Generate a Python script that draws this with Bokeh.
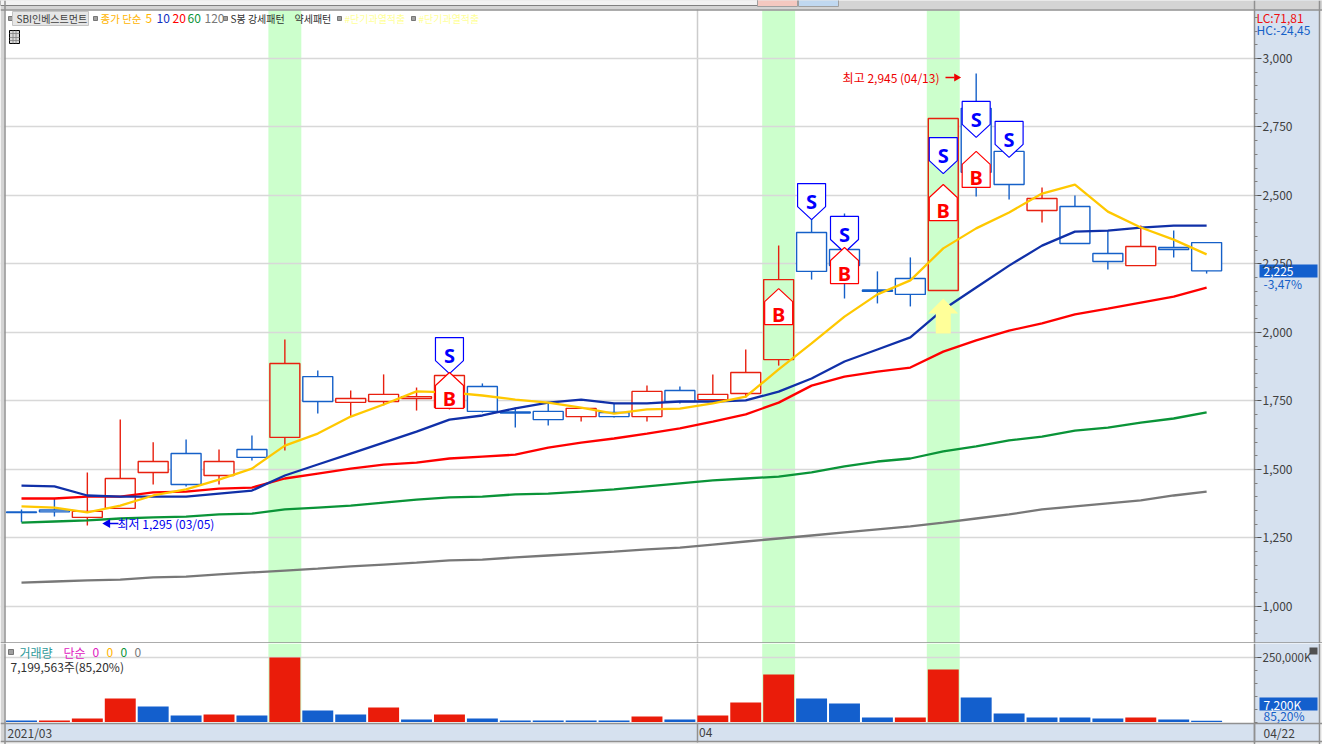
from bokeh.plotting import figure
from bokeh.layouts import column
from bokeh.models import Range1d, FixedTicker, Label, Span, ColumnDataSource, LinearAxis, Grid
from bokeh.core.properties import value
from bokeh.embed import file_html
from bokeh.resources import INLINE

# ---- data ----
opens  = [1345,1352,1325,1358,1489,1558,1478,1573,1617,1839,1745,1748,1759,1726,1803,1710,1712,1693,1708,1693,1788,1755,1777,1901,2365,2303,2155,2197,2153,2818,2661,2445,2460,2288,2244,2310,2328]
closes = [1343,1345,1347,1467,1529,1445,1529,1544,1887,1748,1759,1774,1766,1843,1712,1706,1682,1723,1693,1785,1748,1774,1854,2193,2223,2244,2150,2139,2781,2585,2540,2489,2325,2259,2314,2303,2225]
highs  = [1354,1394,1489,1682,1599,1609,1573,1624,1974,1861,1788,1847,1799,1850,1814,1726,1741,1726,1741,1806,1803,1847,1938,2317,2445,2434,2223,2274,2781,2945,2700,2529,2500,2372,2390,2372,2328]
lows   = [1307,1328,1295,1358,1445,1438,1445,1533,1569,1704,1693,1734,1715,1719,1708,1653,1660,1675,1690,1675,1741,1755,1763,1879,2193,2124,2106,2095,2153,2496,2485,2401,2325,2230,2244,2274,2215]
ma5   = [1365,1361,1343,1368,1405,1427,1463,1503,1587,1631,1693,1737,1785,1781,1770,1755,1744,1726,1704,1719,1722,1741,1766,1865,1960,2058,2139,2190,2307,2380,2438,2507,2540,2441,2383,2339,2285]
ma10  = [1441,1438,1405,1401,1401,1401,1412,1423,1478,1518,1558,1598,1638,1682,1697,1723,1744,1755,1741,1741,1748,1748,1752,1784,1832,1894,1938,1982,2084,2164,2244,2317,2368,2372,2383,2390,2390]
ma20  = [1394,1394,1401,1401,1416,1419,1430,1434,1467,1485,1503,1518,1525,1540,1547,1554,1580,1598,1613,1631,1650,1675,1701,1744,1806,1839,1857,1872,1930,1971,2007,2033,2066,2087,2109,2131,2164]
ma60  = [1306,1310,1314,1321,1325,1328,1336,1339,1354,1361,1368,1379,1390,1398,1401,1409,1412,1419,1427,1438,1449,1460,1467,1474,1489,1511,1529,1540,1566,1584,1606,1620,1642,1653,1671,1686,1708]
ma120 = [1087,1091,1095,1098,1106,1109,1117,1124,1131,1138,1146,1153,1160,1168,1171,1179,1186,1193,1200,1208,1215,1226,1237,1248,1259,1270,1281,1292,1306,1321,1336,1354,1365,1376,1387,1405,1419]
volume = [7700,7700,15400,92300,61500,26900,30800,26900,250000,46200,30800,57700,11500,30800,15400,7700,7700,7700,7700,23100,11500,26900,76900,184600,92300,73100,19200,19200,203800,96200,34600,19200,19200,15400,19200,11500,7200]
vol_up = [0,1,1,1,0,0,1,0,1,0,0,1,0,1,0,0,0,0,0,1,0,1,1,1,0,0,0,1,1,0,0,0,0,0,1,0,0]
bands = [8, 23, 28]
sell_idx = [13,24,25,28,29,30]
sell_tip = [1850,2412,2292,2580,2712,2639]
buy_idx = [13,23,25,28,29]
buy_tip = [1854,2160,2310,2540,2661]
price_ticks = [1000,1250,1500,1750,2000,2250,2500,2750,3000]
price_labels = ["1,000","1,250","1,500","1,750","2,000","2,250","2,500","2,750","3,000"]
high_label = "최고 2,945 (04/13)"
low_label = "최저 1,295 (03/05)"

# ---- layout constants (pixel calibration of the reference) ----
SLOT, X0 = 32.92, 21.0
def px(x): return (x - X0) / SLOT
def py(y): return 3211.7 - 3.65 * y
def vy(y): return (722 - y) * 3846.0
N = len(opens)
idx = list(range(N))
RED, BLUE = "#e8200f", "#1560c8"
PANEL, EDGE, GRID = "#d6e1ef", "#909090", "#d8d8d8"
BAND = "#ccffcc"
CHROME = "#d4d4d4"
FONT = "Noto Sans CJK KR"
XR = Range1d(px(0), px(1322))
AX_X = px(1254)

def style_axis(ax):
    ax.axis_line_color = EDGE
    ax.axis_line_width = 1.5
    ax.major_tick_line_color = "#505050"
    ax.minor_tick_line_color = "#808080"
    ax.major_tick_in = 0
    ax.major_tick_out = 7
    ax.minor_tick_in = 0
    ax.minor_tick_out = 3
    ax.major_label_standoff = 1
    ax.major_label_text_font = FONT
    ax.major_label_text_font_size = "12px"
    ax.major_label_text_color = "#404040"

def base(height, yr, fy, top_px, bottom_px):
    """Frame covers the whole canvas; the axis sits at a fixed location inside it."""
    p = figure(width=1322, height=height, x_range=XR, y_range=yr, output_backend="svg",
               toolbar_location=None, y_axis_location=None, x_axis_location=None,
               min_border=0, background_fill_color="white", border_fill_color=PANEL,
               outline_line_color=None)
    p.grid.visible = False
    p.add_layout(Span(location=px(697), dimension="height", line_color="#cccccc", line_width=1.5, level="underlay"))
    p.vbar(x=bands, width=1.0, bottom=fy(bottom_px), top=fy(top_px), fill_color=BAND, line_color=None, level="underlay")
    # right-hand scale panel
    p.quad(left=px(1254), right=px(1319), bottom=fy(height + top_px + 50), top=fy(top_px - 50), fill_color=PANEL, line_color=None)
    p.quad(left=px(1319), right=px(1322), bottom=fy(height + top_px + 50), top=fy(top_px - 50), fill_color="#f0f0f0", line_color=None)
    # left window edge
    p.quad(left=px(0), right=px(4), bottom=fy(height + top_px + 50), top=fy(top_px - 50), fill_color=CHROME, line_color=None)
    p.add_layout(Span(location=px(4.5), dimension="height", line_color=EDGE, line_width=1.5))
    p.add_layout(Span(location=px(1319), dimension="height", line_color=EDGE, line_width=1.5))
    return p

def lab(p, x, y, text, color="#303030", size=12, align="left", fy=py, **kw):
    p.add_layout(Label(x=px(x), y=fy(y), text=text, text_color=color, text_font=FONT,
                       text_font_size=f"{size}px", text_align=align, text_baseline="middle", **kw))

# ---- price pane ----
yr = Range1d(py(643), py(0))
p = base(643, yr, py, 10, 643)
p.add_layout(Grid(dimension=1, ticker=FixedTicker(ticks=price_ticks), grid_line_color=GRID, grid_line_width=1.5))
yax = LinearAxis(fixed_location=AX_X, ticker=FixedTicker(ticks=price_ticks, minor_ticks=list(range(900, 3200, 50))),
                 major_label_overrides=dict(zip(price_ticks, price_labels)))
style_axis(yax)
p.add_layout(yax, "right")

# top window chrome
p.quad(left=px(0), right=px(1322), bottom=py(9), top=py(-5), fill_color=CHROME, line_color=None)
p.quad(left=px(0), right=px(757), bottom=py(5), top=py(-5), fill_color="#f2f2f2", line_color="#808080", line_width=1)
p.quad(left=px(757), right=px(797), bottom=py(6), top=py(-5), fill_color="#f4c8c0", line_color="#a0a0a0", line_width=1)
p.quad(left=px(798), right=px(838), bottom=py(6), top=py(-5), fill_color="#c0d8f0", line_color="#a0a0a0", line_width=1)
p.add_layout(Span(location=py(9.5), dimension="width", line_color=EDGE, line_width=1.5))
p.add_layout(Span(location=py(642.5), dimension="width", line_color=EDGE, line_width=1.5))

up = [c >= o for o, c in zip(opens, closes)]
colors = [RED if u else BLUE for u in up]
fills = [BAND if i in bands else "white" for i in idx]
src = ColumnDataSource(dict(
    x=idx, top=[max(o, c) for o, c in zip(opens, closes)], bot=[min(o, c) for o, c in zip(opens, closes)],
    hi=highs, lo=lows, color=colors, fill=fills))
p.segment("x", "top", "x", "hi", source=src, line_color="color", line_width=1.4)
p.segment("x", "bot", "x", "lo", source=src, line_color="color", line_width=1.4)
p.vbar("x", width=0.91, top="top", bottom="bot", source=src, fill_color="fill", line_color="color", line_width=1.4)

for series, col in [(ma120, "#787878"), (ma60, "#0a9438"), (ma20, "#ff0000"), (ma10, "#1030a8"), (ma5, "#ffc800")]:
    p.line(idx, series, line_color=col, line_width=2.3)

# pale up arrow at the last band
ARROW = lows[28] - 29
ax0 = bands[2]
hw, sw = 15 / SLOT, 7.5 / SLOT
p.patch([ax0, ax0 + hw, ax0 + sw, ax0 + sw, ax0 - sw, ax0 - sw, ax0 - hw],
        [ARROW, ARROW - 15 * 3.65, ARROW - 15 * 3.65, ARROW - 35 * 3.65, ARROW - 35 * 3.65, ARROW - 15 * 3.65, ARROW - 15 * 3.65],
        fill_color="#ffff99", line_color=None)

# S / B signal markers
dx = 14 / SLOT
p.patches([[i - dx, i + dx, i + dx, i, i - dx] for i in sell_idx],
          [[t + 36 * 3.65, t + 36 * 3.65, t + 13 * 3.65, t, t + 13 * 3.65] for t in sell_tip],
          fill_color="white", line_color="#0000ff", line_width=1.2)
p.patches([[i, i + dx, i + dx, i - dx, i - dx] for i in buy_idx],
          [[t, t - 13 * 3.65, t - 36 * 3.65, t - 36 * 3.65, t - 13 * 3.65] for t in buy_tip],
          fill_color="white", line_color="#ff0000", line_width=1.2)
p.text(sell_idx, [t + 18 * 3.65 for t in sell_tip], text=["S"] * len(sell_idx), text_color="#0000ff",
       text_font=value("Noto Sans"), text_font_style="bold", text_font_size="20px",
       text_align="center", text_baseline="middle")
p.text(buy_idx, [t - 26 * 3.65 for t in buy_tip], text=["B"] * len(buy_idx), text_color="#ff0000",
       text_font=value("Noto Sans"), text_font_style="bold", text_font_size="20px",
       text_align="center", text_baseline="middle")

# high / low callouts
lab(p, 939, 77, high_label, "#ee0000", 12, "right")
p.line([px(945), px(954)], [py(77), py(77)], line_color="#ee0000", line_width=1.3)
p.scatter([px(956)], [py(77)], marker="triangle", size=8, angle=-1.5708, fill_color="#ee0000", line_color=None)
lab(p, 117, 523, low_label, "#0000ee", 12)
p.line([px(108), px(118)], [py(523), py(523)], line_color="#0000ee", line_width=1.3)
p.scatter([px(107)], [py(523)], marker="triangle", size=9, angle=1.5708, fill_color="#0000ee", line_color=None)

# legend row
for sqx in [8, 93, 223, 337, 411]:
    p.quad(left=px(sqx), right=px(sqx + 4), bottom=py(20), top=py(16), fill_color="#a0a0a0", line_color="#606060", line_width=0.8)
p.quad(left=px(12), right=px(88), bottom=py(25), top=py(11), fill_color="#e6e6e6", line_color="#c4c4c4", line_width=1)
lab(p, 16, 18, "SBI인베스트먼트", "#404040", 10)
lab(p, 100, 18, "종가 단순", "#ffb400", 10.5)
lab(p, 145, 18, "5", "#ffb400")
lab(p, 156, 18, "10", "#1030c0")
lab(p, 172, 18, "20", "#ff0000")
lab(p, 187, 18, "60", "#0a9438")
lab(p, 204, 18, "120", "#787878")
lab(p, 230, 18, "S봉 강세패턴", "#303030", 10)
lab(p, 294, 18, "약세패턴", "#303030", 10)
lab(p, 344, 18, "#단기과열적출", "#ffff99", 10)
lab(p, 418, 18, "#단기과열적출", "#ffff99", 10)

# small table icon
p.quad(left=px(9), right=px(19), bottom=py(43), top=py(30), fill_color="#d8d8d8", line_color="black", line_width=1)
p.multi_line([[px(12.5), px(12.5)], [px(15.5), px(15.5)], [px(9), px(19)], [px(9), px(19)], [px(9), px(19)]],
             [[py(30), py(43)], [py(30), py(43)], [py(33), py(33)], [py(37), py(37)], [py(40), py(40)]],
             line_color="#808080", line_width=0.8)

# right-hand readouts
lab(p, 1256, 17, "LC:71,81", "#ee1010", 12)
lab(p, 1256, 29, "HC:-24,45", "#1560c8", 12)
p.quad(left=px(1259), right=px(1317), bottom=py(277), top=py(264), fill_color="#135fcd", line_color=None)
lab(p, 1263, 270.5, "2,225", "white", 12)
lab(p, 1263, 283, "-3,47%", "#1560c8", 12)

# ---- volume pane ----
vr = Range1d(vy(744), vy(643))
v = base(101, vr, vy, 643, 722)
v.add_layout(Grid(dimension=1, ticker=FixedTicker(ticks=[250000]), grid_line_color=GRID, grid_line_width=1.5))
vax = LinearAxis(fixed_location=AX_X, ticker=FixedTicker(ticks=[250000], minor_ticks=list(range(0, 300000, 50000))),
                 major_label_overrides={250000: "250,000K"})
style_axis(vax)
vax.major_label_text_font_size = "11.5px"
v.add_layout(vax, "right")
v.quad(left=px(4), right=px(1319), bottom=vy(741), top=vy(722.5), fill_color=PANEL, line_color=None)
v.quad(left=px(0), right=px(1322), bottom=vy(750), top=vy(741), fill_color="#efefef", line_color=None)
v.add_layout(Span(location=vy(741), dimension="width", line_color=EDGE, line_width=1.5))
v.vbar(idx, width=0.94, top=volume, bottom=vy(721.5), fill_color=["#ea1c0a" if u else "#135fcd" for u in vol_up], line_color=None)

v.quad(left=px(8), right=px(13), bottom=vy(654), top=vy(649), fill_color="#a0a0a0", line_color="#606060", line_width=0.8)
lab(v, 19, 652, "거래량", "#2e9a9a", fy=vy)
lab(v, 63, 652, "단순", "#e020c0", fy=vy)
lab(v, 92, 652, "0", "#e020c0", fy=vy)
lab(v, 106, 652, "0", "#ffb400", fy=vy)
lab(v, 120, 652, "0", "#0a9438", fy=vy)
lab(v, 134, 652, "0", "#787878", fy=vy)
lab(v, 10, 666, "7,199,563주(85,20%)", "#303030", fy=vy)

v.quad(left=px(1259), right=px(1317), bottom=vy(710), top=vy(697), fill_color="#135fcd", line_color=None)
lab(v, 1263, 703.5, "7,200K", "white", 12, fy=vy)
lab(v, 1263, 715, "85,20%", "#1560c8", 12, fy=vy)
v.quad(left=px(1309), right=px(1317), bottom=vy(654), top=vy(647), fill_color="#505050", line_color=None)

# date axis: ticks come from the axis, the left-aligned date texts sit beside them
ticks = [px(697), px(1254)]
xa = LinearAxis(fixed_location=vy(722.5), ticker=FixedTicker(ticks=ticks),
                major_label_overrides={ticks[0]: " ", ticks[1]: " "})
xa.axis_line_color = EDGE
xa.axis_line_width = 1.5
xa.major_tick_line_color = EDGE
xa.major_tick_line_width = 1.5
xa.minor_tick_line_color = None
xa.major_tick_in = 0
xa.major_tick_out = 19
v.add_layout(xa, "below")
lab(v, 7, 731.5, "2021/03", "#404040", 12, fy=vy)
lab(v, 698.5, 731.5, "04", "#404040", 12, fy=vy)
lab(v, 1263, 731.5, "04/22", "#404040", 12, fy=vy)

page = column(p, v, spacing=0)
open("out.html", "w").write(file_html(page, INLINE))
